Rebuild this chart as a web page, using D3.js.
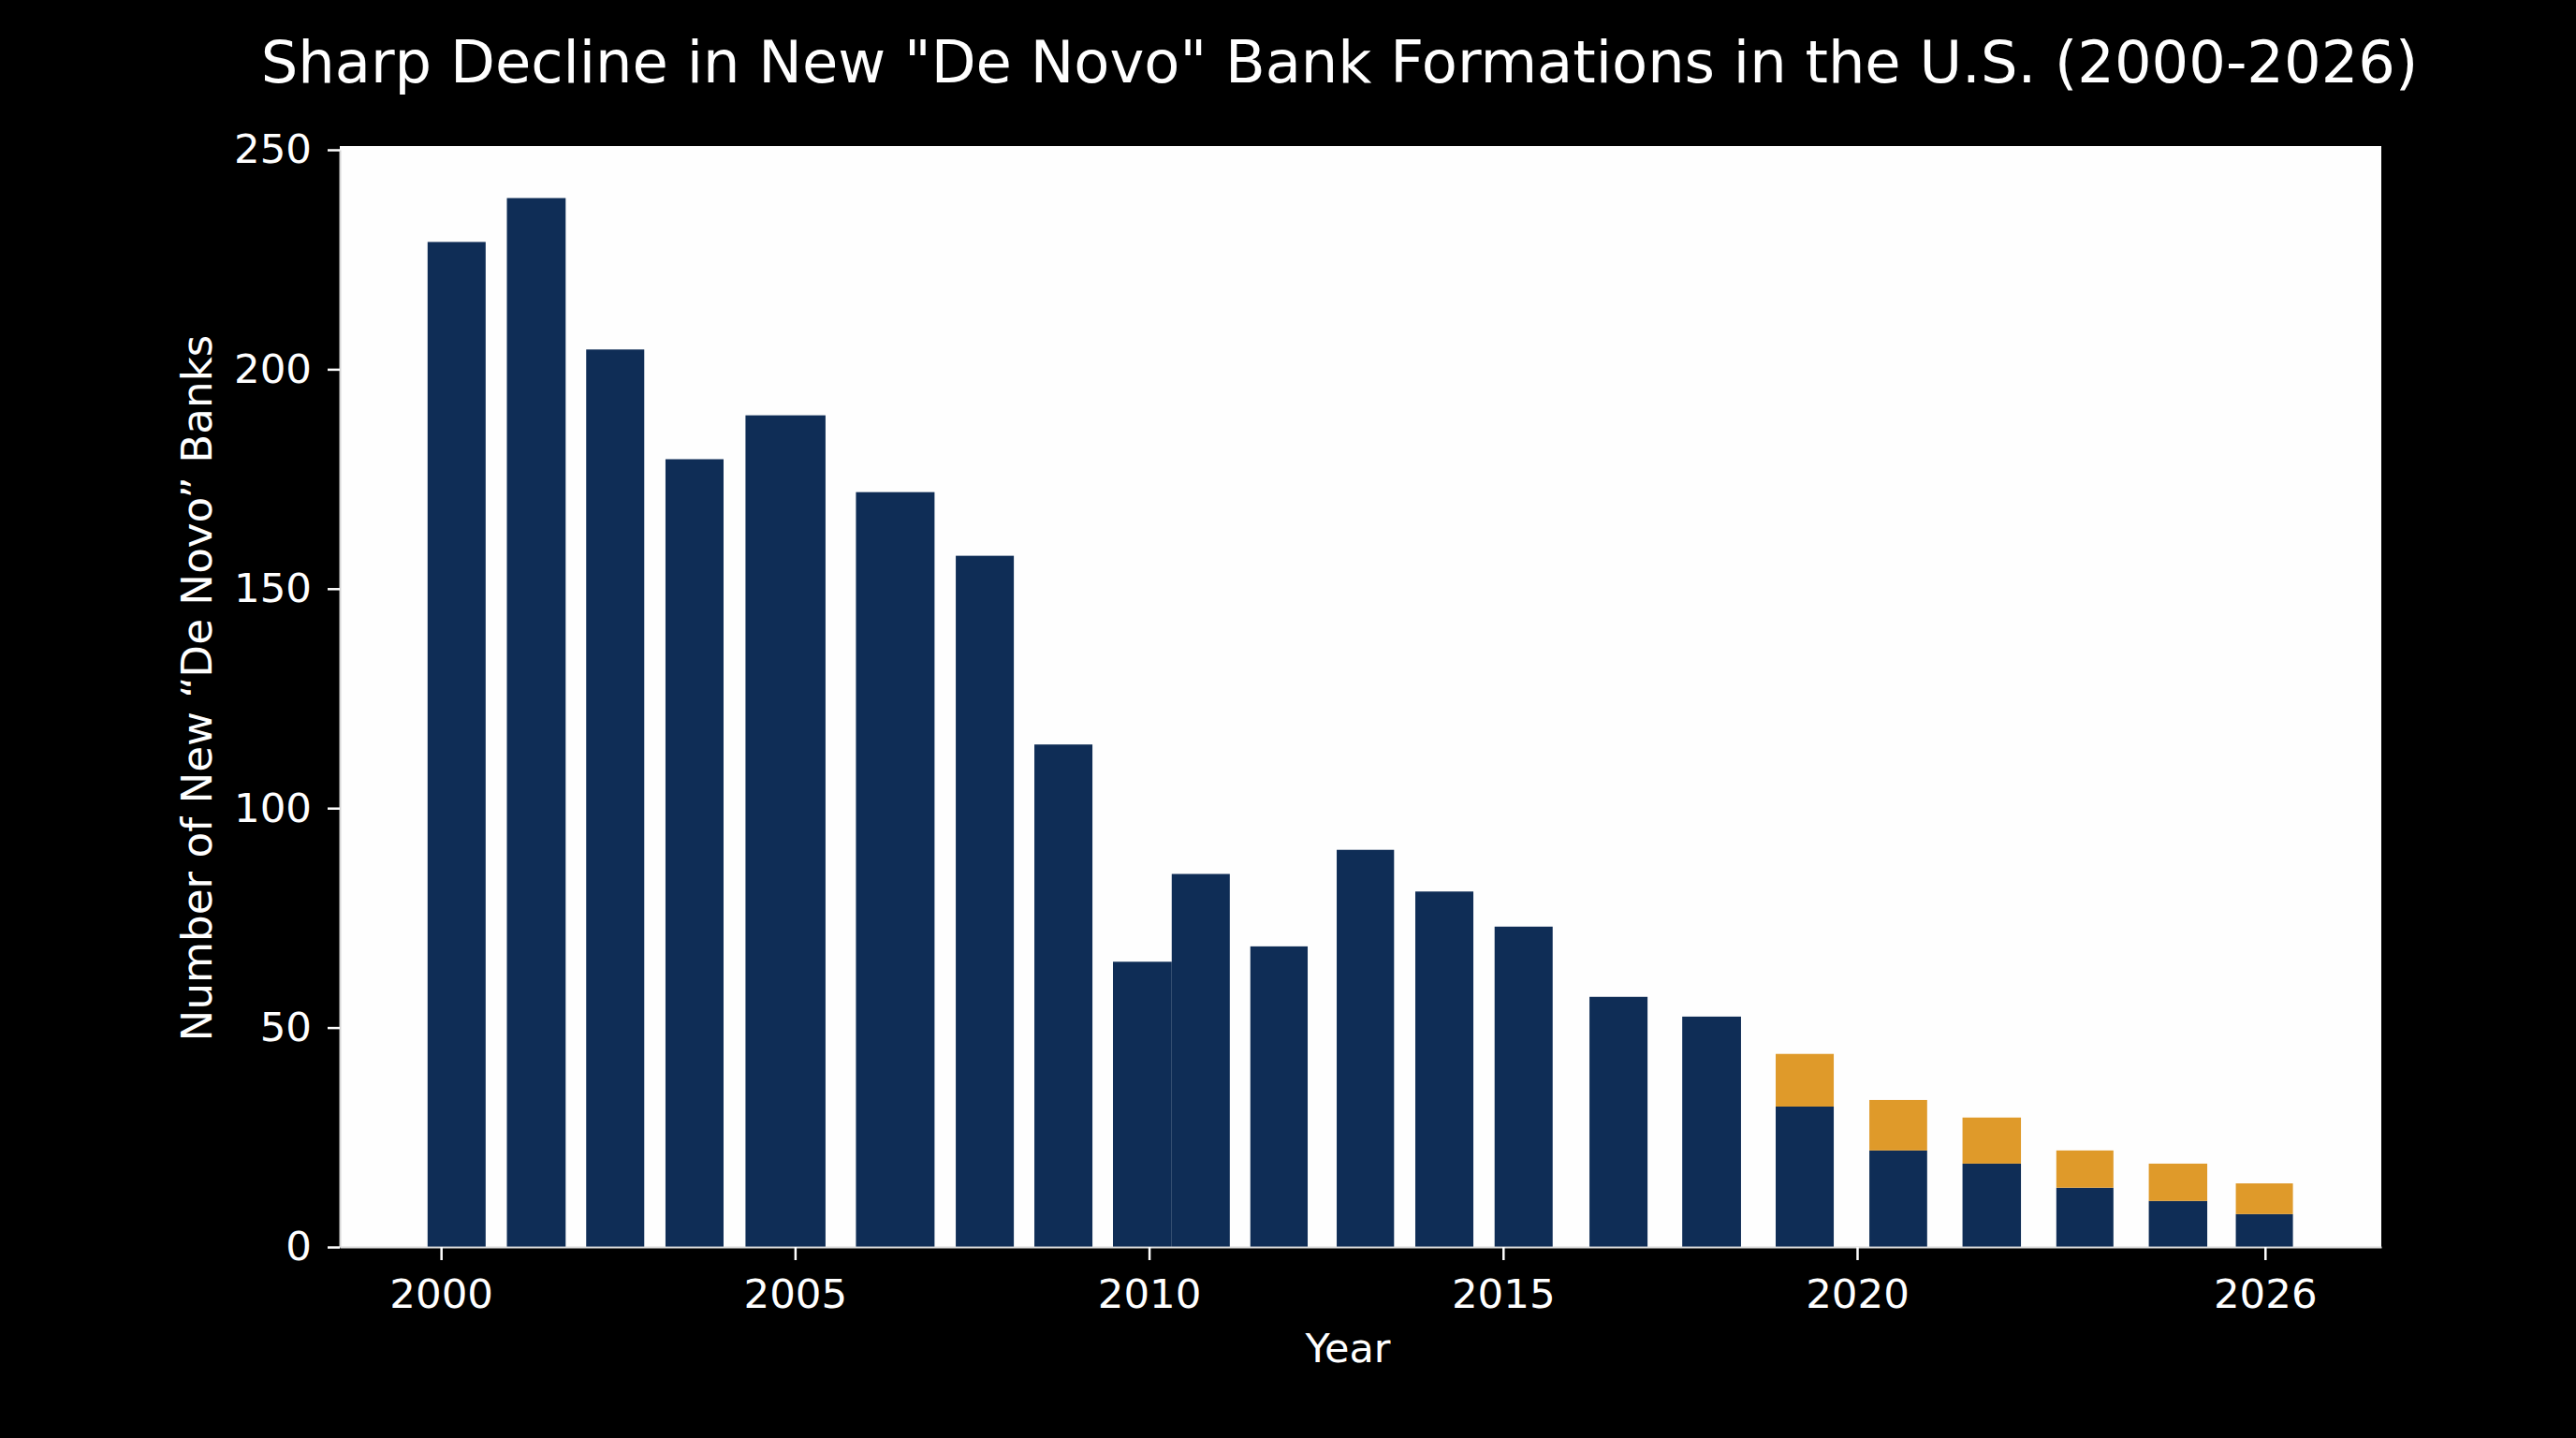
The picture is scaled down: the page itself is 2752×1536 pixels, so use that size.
<!DOCTYPE html>
<html>
<head>
<meta charset="utf-8">
<script src="https://cdn.jsdelivr.net/npm/d3@7"></script>
<style>
    body { margin: 0; background: #000; }
    svg { display: block; }
</style>
</head>
<body>
<div class="paint"></div>
<script>
// bars: period each bar covers (in years) and stacked counts
const periodStart = [1999.81, 2000.93, 2002.05, 2003.17, 2004.30, 2005.86, 2007.27, 2008.38, 2009.49, 2010.32, 2011.43,
    2012.65, 2013.76, 2014.88, 2016.22, 2017.53, 2018.85, 2020.18, 2021.55, 2022.93, 2024.29, 2025.57];
const periodEnd = [2000.63, 2001.76, 2002.87, 2003.99, 2005.43, 2006.97, 2008.09, 2009.20, 2010.32, 2011.14, 2012.24,
    2013.46, 2014.58, 2015.70, 2017.04, 2018.36, 2019.67, 2021.03, 2022.41, 2023.77, 2025.15, 2026.41];
const navyValues = [229, 239, 204.5, 179.5, 189.5, 172, 157.5, 114.5, 65, 85, 68.5,
    90.5, 81, 73, 57, 52.5, 32, 22, 19, 13.5, 10.5, 7.5];
const orangeValues = [0, 0, 0, 0, 0, 0, 0, 0, 0, 0, 0,
    0, 0, 0, 0, 0, 12, 11.5, 10.5, 8.5, 8.5, 7];
const xTickYears = [2000, 2005, 2010, 2015, 2020, 2026];
const yTickValues = [0, 50, 100, 150, 200, 250];

const titleText = 'Sharp Decline in New "De Novo" Bank Formations in the U.S. (2000-2026)';
const xLabelText = "Year";
const yLabelText = "Number of New \u201CDe Novo\u201D Banks";

var main;
(function (main) {
    const W = 2752, H = 1536;
    const plot = { left: 363, top: 156, right: 2544, bottom: 1332 };
    const colors = { navy: "#0f2d56", orange: "#df9a2a" };
    const font = "'DejaVu Sans', 'Liberation Sans', sans-serif";

    function ini() {
        let svg = d3.select(".paint").append("svg")
            .attr("width", W).attr("height", H)
            .style("background", "#000");

        svg.append("rect")
            .attr("x", plot.left).attr("y", plot.top)
            .attr("width", plot.right - plot.left).attr("height", plot.bottom - plot.top)
            .attr("fill", "#fefefe");

        // the year axis in the picture is a little tighter after 2020
        let x = d3.scaleLinear()
            .domain([1998.57, 2020, 2027.71])
            .range([plot.left, 1984, plot.right]);
        let y = d3.scaleLinear()
            .domain([0, 250])
            .range([plot.bottom, 160]);

        let rows = navyValues.map((v, i) => ({
            start: periodStart[i], end: periodEnd[i], navy: v, orange: orangeValues[i]
        }));
        let series = d3.stack().keys(["navy", "orange"])(rows);

        let layers = svg.append("g").selectAll("g.layer").data(series)
            .enter().append("g")
            .classed("layer", true)
            .attr("fill", (d) => colors[d.key]);
        layers.selectAll("rect").data((d) => d.filter((p) => p[1] > p[0]))
            .enter().append("rect")
            .attr("x", (p) => x(p.data.start))
            .attr("width", (p) => x(p.data.end) - x(p.data.start))
            .attr("y", (p) => y(p[1]))
            .attr("height", (p) => y(p[0]) - y(p[1]));

        let xAxis = svg.append("g")
            .attr("transform", "translate(0," + plot.bottom + ")")
            .call(d3.axisBottom(x).tickValues(xTickYears).tickFormat(d3.format("d"))
                .tickSize(14).tickPadding(20).tickSizeOuter(0));
        let yAxis = svg.append("g")
            .attr("transform", "translate(" + plot.left + ",0)")
            .call(d3.axisLeft(y).tickValues(yTickValues).tickSize(13).tickPadding(17).tickSizeOuter(0));

        [xAxis, yAxis].forEach((g) => {
            g.select(".domain").attr("stroke", "#d8d8d8").attr("stroke-width", 2);
            g.selectAll(".tick line").attr("stroke", "#fff").attr("stroke-width", 2.5);
            g.selectAll(".tick text").attr("fill", "#fff")
                .style("font-family", font).style("font-size", "43.5px");
        });

        let title = svg.append("text")
            .attr("x", 1431).attr("y", 88)
            .attr("text-anchor", "middle")
            .attr("fill", "#fff")
            .style("font-family", font).style("font-size", "60px")
            .text(titleText);
        fitWidth(title, 60, 2305);

        svg.append("text")
            .attr("x", 1440).attr("y", 1455)
            .attr("text-anchor", "middle")
            .attr("fill", "#fff")
            .style("font-family", font).style("font-size", "43px")
            .text(xLabelText);

        let yLabel = svg.append("text")
            .attr("transform", "translate(226,735) rotate(-90)")
            .attr("text-anchor", "middle")
            .attr("fill", "#fff")
            .style("font-family", font).style("font-size", "44px")
            .text(yLabelText);
        fitWidth(yLabel, 44, 755);
    }
    main.ini = ini;

    function fitWidth(sel, size, target) {
        let len = sel.node().getComputedTextLength();
        if (len > 0) {
            sel.style("font-size", (size * target / len) + "px");
        }
    }
})(main || (main = {}));
let _main = main.ini();
</script>
</body>
</html>
